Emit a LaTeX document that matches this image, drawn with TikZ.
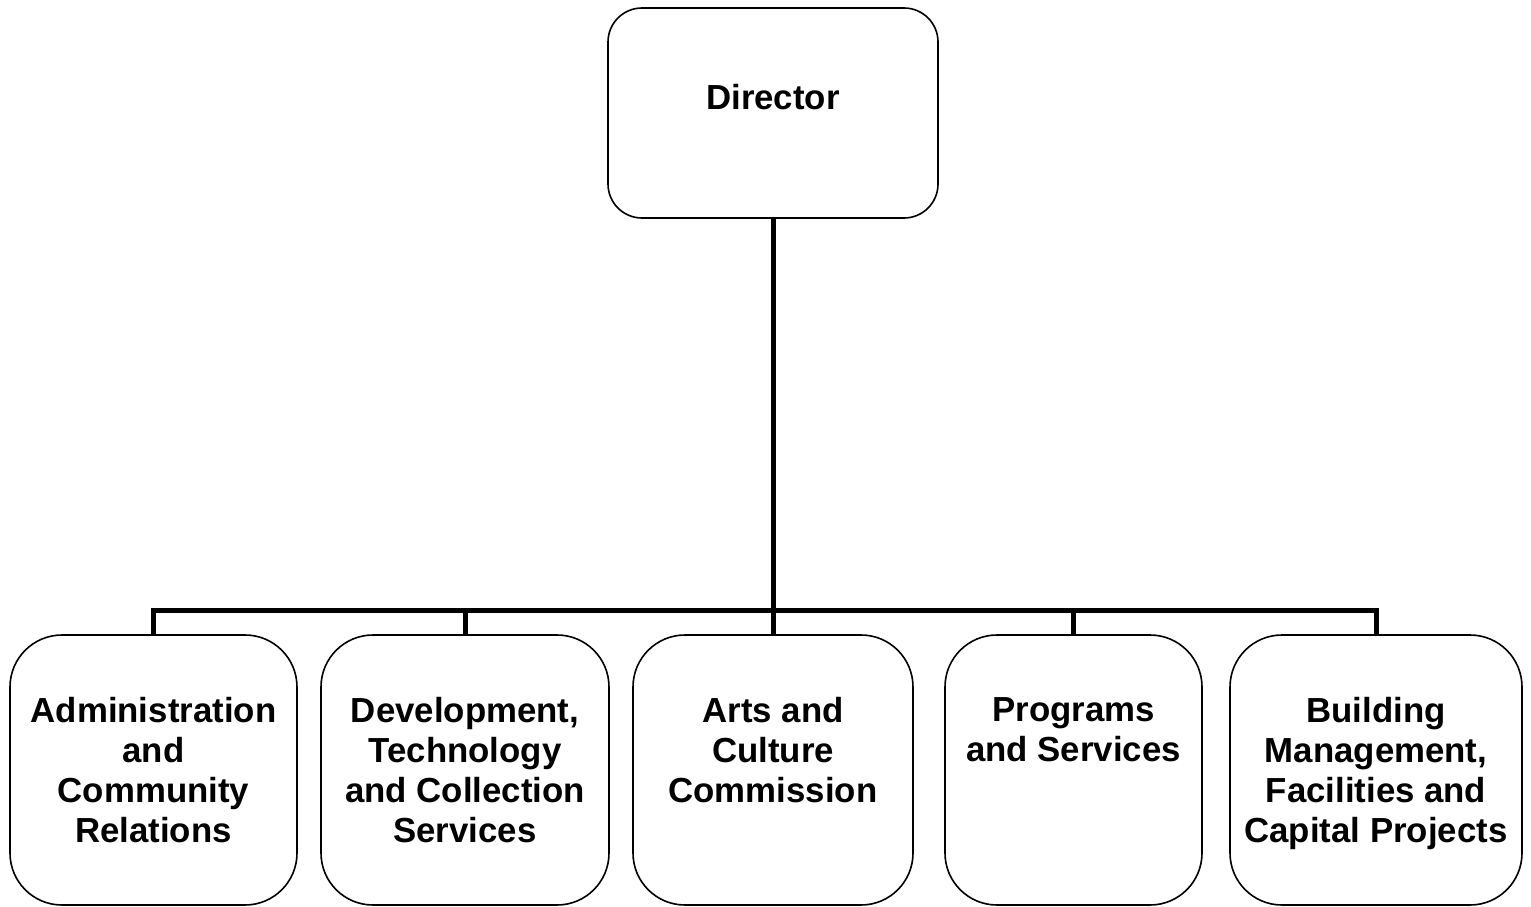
\documentclass[tikz,border=0pt]{standalone}
\usepackage{fontspec}
\setmainfont{Liberation Sans}
\begin{document}
\begin{tikzpicture}[x=1pt,y=-1pt,
  topbox/.style={draw=black, line width=1.6pt, rounded corners=34pt, minimum width=330pt, minimum height=210pt, inner sep=0pt},
  subbox/.style={draw=black, line width=1.6pt, rounded corners=52pt, minimum height=270pt, inner sep=0pt},
  lbl/.style={font=\bfseries\fontsize{34.8}{40}\selectfont, align=center, inner sep=0pt},
  sublbl/.style={lbl, anchor=north},
  conn/.style={line width=5pt, line join=miter}]
\useasboundingbox (0,0) rectangle (1531,907);
\node[topbox] (dir) at (773,113) {};
\node[lbl] (tdir) at (773,97) {Director};
\node[subbox, minimum width=287pt] (b1) at (153.5,770) {};
\node[subbox, minimum width=288pt] (b2) at (465,770) {};
\node[subbox, minimum width=280pt] (b3) at (773,770) {};
\node[subbox, minimum width=257pt] (b4) at (1073.5,770) {};
\node[subbox, minimum width=292pt] (b5) at (1376,770) {};
\node[sublbl] (t1) at (153.5,697) {Administration\\and\\Community\\Relations};
\node[sublbl] (t2) at (465,697) {Development,\\Technology\\and Collection\\Services};
\node[sublbl] (t3) at (773,697) {Arts and\\Culture\\Commission};
\node[sublbl] (t4) at (1073.5,697) {Programs\\and Services};
\node[sublbl] (t5) at (1376,697) {Building\\Management,\\Facilities and\\Capital Projects};
\coordinate (j) at (773,610);
\draw[conn] (dir.south) -- (j);
\draw[conn] (b1.north) -- (b1.north |- j) -- (b5.north |- j) -- (b5.north);
\draw[conn] (b2.north) -- (b2.north |- j);
\draw[conn] (b3.north) -- (b3.north |- j);
\draw[conn] (b4.north) -- (b4.north |- j);
\end{tikzpicture}
\end{document}
